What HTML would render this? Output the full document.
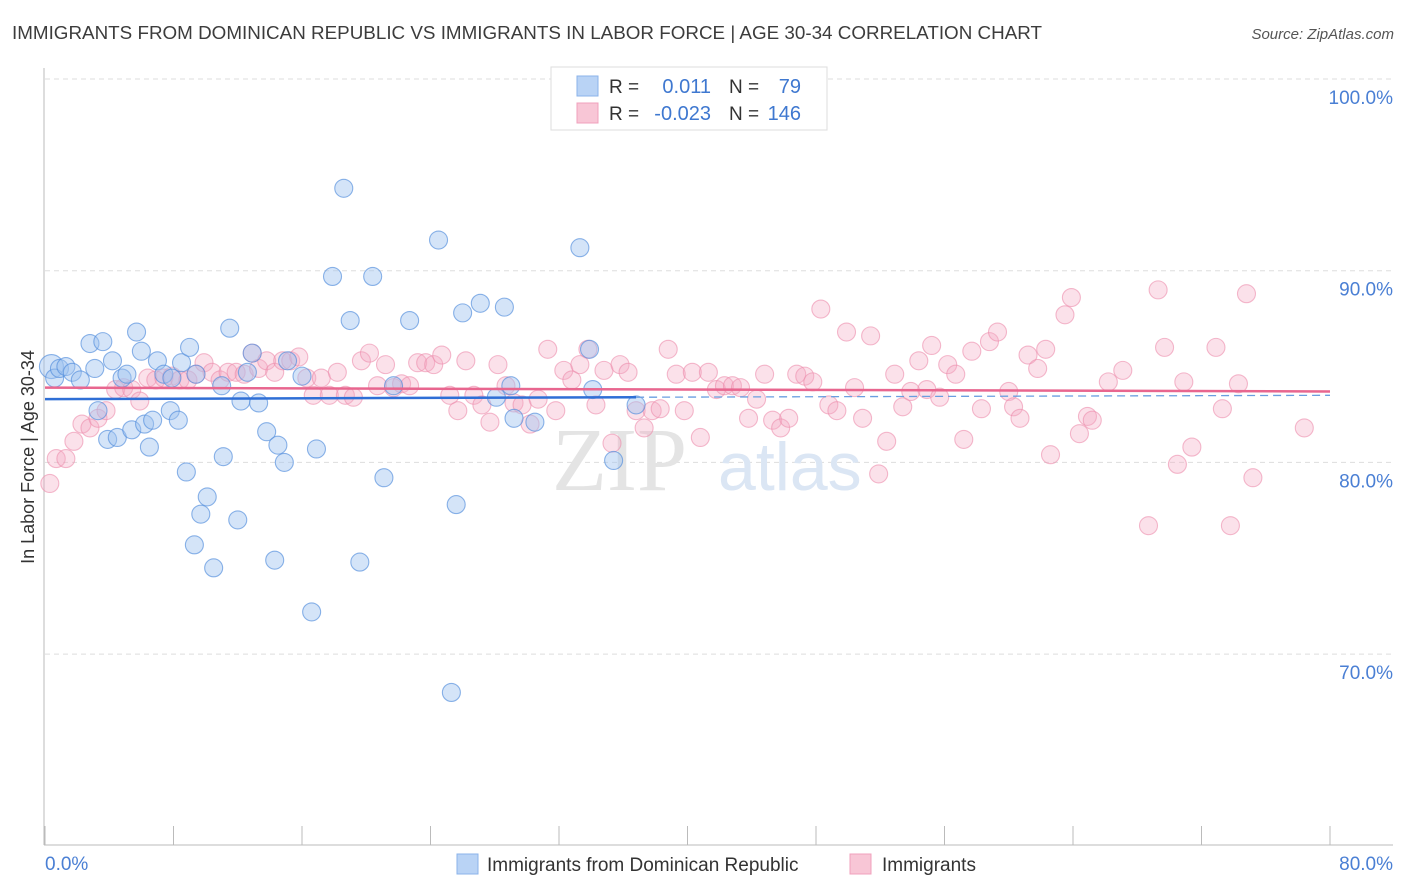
<!DOCTYPE html>
<html><head><meta charset="utf-8"><style>
body{margin:0;background:#fff;font-family:"Liberation Sans",sans-serif;}
svg{display:block}
</style></head><body>
<svg id="chart" width="1406" height="892" xmlns="http://www.w3.org/2000/svg">
<text x="12" y="39" font-size="18" fill="#3c3c3c" textLength="1030" lengthAdjust="spacingAndGlyphs">IMMIGRANTS FROM DOMINICAN REPUBLIC VS IMMIGRANTS IN LABOR FORCE | AGE 30-34 CORRELATION CHART</text>
<text x="1394" y="39" font-size="15" font-style="italic" fill="#555" text-anchor="end">Source: ZipAtlas.com</text>
<g id="grid"></g>
<text x="552" y="490" font-size="90" font-family="Liberation Serif,serif" fill="#e4e4e4">ZIP</text>
<text x="718" y="490" font-size="68" fill="#dbe6f4">atlas</text>
<g id="pts"></g>
<g id="lines"></g>
<text transform="translate(34,457) rotate(-90)" font-size="18" fill="#333" text-anchor="middle">In Labor Force | Age 30-34</text>
<text x="45" y="870" font-size="19" fill="#4a7fd4">0.0%</text>
<text x="1393" y="870" font-size="19" fill="#4a7fd4" text-anchor="end">80.0%</text>
<g>
<rect x="551" y="67" width="276" height="63" fill="#fff" stroke="#ddd"/>
<rect x="577" y="76" width="21" height="20" fill="#b9d3f5" stroke="#8bb3ea"/>
<rect x="577" y="103" width="21" height="20" fill="#f8c6d6" stroke="#f0a0bc"/>
<text x="609" y="93" font-size="19" fill="#333">R =</text>
<text x="711" y="93" font-size="20" fill="#3f78d0" text-anchor="end">0.011</text>
<text x="729" y="93" font-size="19" fill="#333">N =</text>
<text x="801" y="93" font-size="20" fill="#3f78d0" text-anchor="end">79</text>
<text x="609" y="120" font-size="19" fill="#333">R =</text>
<text x="711" y="120" font-size="20" fill="#3f78d0" text-anchor="end">-0.023</text>
<text x="729" y="120" font-size="19" fill="#333">N =</text>
<text x="801" y="120" font-size="20" fill="#3f78d0" text-anchor="end">146</text>
</g>
<g>
<rect x="457" y="854" width="21" height="20" fill="#b9d3f5" stroke="#8bb3ea"/>
<text x="487" y="871" font-size="19" fill="#333">Immigrants from Dominican Republic</text>
<rect x="850" y="854" width="21" height="20" fill="#f8c6d6" stroke="#f0a0bc"/>
<text x="882" y="871" font-size="19" fill="#333">Immigrants</text>
</g>
</svg>
<script>
const yTicks=[100,90,80,70];
const xTickVals=[0,8,16,24,32,40,48,56,64,72,80];
const blueX=[0.4,0.6,0.9,1.3,1.7,2.2,2.8,3.1,3.3,3.6,3.9,4.2,4.5,4.8,5.1,5.4,5.7,6.0,6.2,6.5,6.7,7.0,7.4,7.8,7.9,8.3,8.5,8.8,9.0,9.4,9.7,10.1,10.5,9.3,11.1,11.0,11.5,12.0,12.2,12.6,12.9,13.3,13.8,14.3,14.5,14.9,15.1,16.0,16.6,16.9,17.9,18.6,19.0,19.6,20.4,21.1,21.7,22.7,24.5,25.3,25.6,26.0,27.1,28.1,28.6,29.0,29.2,30.5,33.3,33.9,34.1,35.4,36.8];
const blueY=[85.0,84.4,84.9,85.0,84.7,84.3,86.2,84.9,82.7,86.3,81.2,85.3,81.3,84.4,84.6,81.7,86.8,85.8,82.0,80.8,82.2,85.3,84.6,82.7,84.4,82.2,85.2,79.5,86.0,84.6,77.3,78.2,74.5,75.7,80.3,84.0,87.0,77.0,83.2,84.7,85.7,83.1,81.6,74.9,80.9,80.0,85.3,84.5,72.2,80.7,89.7,94.3,87.4,74.8,89.7,79.2,84.0,87.4,91.6,68.0,77.8,87.8,88.3,83.4,88.1,84.0,82.3,82.1,91.2,85.9,83.8,80.1,83.0];
const pinkX=[0.3,0.7,1.3,1.8,2.3,2.8,3.3,3.8,4.4,4.9,5.4,5.9,6.4,6.9,7.4,7.9,8.4,8.9,9.4,9.9,10.4,10.9,11.4,11.9,12.4,12.9,13.3,13.8,14.3,14.8,15.3,15.8,16.3,16.7,17.2,17.7,18.2,18.7,19.2,19.7,20.2,20.7,21.2,21.7,22.2,22.7,23.2,23.7,24.2,24.7,25.2,25.7,26.2,26.7,27.2,27.7,28.2,28.7,29.2,29.7,30.2,30.7,31.3,31.8,32.3,32.8,33.3,33.8,34.3,34.8,35.3,35.8,36.3,36.8,37.3,37.8,38.3,38.8,39.3,39.8,40.3,40.8,41.3,41.8,42.3,42.8,43.3,43.8,44.3,44.8,45.3,45.8,46.3,46.8,47.3,47.8,48.3,48.8,49.3,49.9,50.4,50.9,51.4,51.9,52.4,52.9,53.4,53.9,54.4,54.9,55.2,55.7,56.2,56.7,57.2,57.7,58.3,58.8,59.3,60.0,60.3,60.7,61.2,61.8,62.3,62.6,63.5,63.9,64.4,64.9,65.2,66.2,67.1,68.7,69.3,69.7,70.5,70.9,71.4,72.9,73.3,73.8,74.8,75.2,74.3,78.4];
const pinkY=[78.9,80.2,80.2,81.1,82.0,81.8,82.3,82.7,83.8,83.9,83.8,83.2,84.4,84.3,84.4,84.5,84.3,84.3,84.6,85.2,84.7,84.3,84.7,84.7,84.6,85.7,84.9,85.3,84.7,85.3,85.3,85.5,84.4,83.5,84.4,83.5,84.7,83.5,83.4,85.3,85.7,84.0,85.1,83.9,84.1,84.0,85.2,85.2,85.1,85.6,83.5,82.7,85.3,83.5,83.0,82.1,85.1,84.0,83.1,83.0,82.0,83.3,85.9,82.7,84.8,84.3,85.1,85.9,83.0,84.8,81.0,85.1,84.7,82.7,81.8,82.7,82.8,85.9,84.6,82.7,84.7,81.3,84.7,83.8,84.0,84.0,83.9,82.3,83.3,84.6,82.2,81.8,82.3,84.6,84.5,84.2,88.0,83.0,82.7,86.8,83.9,82.3,86.6,79.4,81.1,84.6,82.9,83.7,85.3,83.8,86.1,83.4,85.1,84.6,81.2,85.8,82.8,86.3,86.8,83.7,82.9,82.3,85.6,84.9,85.9,80.4,87.7,88.6,81.5,82.4,82.2,84.2,84.8,76.7,89.0,86.0,79.9,84.2,80.8,86.0,82.8,76.7,88.8,79.2,84.1,81.8];
const blueTrend=[83.3,83.4,83.5];
const pinkTrend=[83.9,83.7];
const NS='http://www.w3.org/2000/svg';
const X0=45,X1=1330,Y0=845;
function sx(v){return X0+(v/80)*(X1-X0);}
function sy(v){return 79+(100-v)*19.17;}
function mk(tag,attrs,parent){const e=document.createElementNS(NS,tag);for(const k in attrs)e.setAttribute(k,attrs[k]);parent.appendChild(e);return e;}
const grid=document.getElementById('grid');
yTicks.forEach(t=>{
 const l=mk('line',{x1:45,x2:1393,y1:sy(t),y2:sy(t),stroke:'#ddd','stroke-dasharray':'5,4'},grid);
 
 
 const tx=mk('text',{x:1393,y:sy(t)+25,'font-size':19,fill:'#4a7fd4','text-anchor':'end'},grid);
 tx.textContent=t.toFixed(1)+'%';
 
 
});
const ax=mk('line',{x1:44,x2:44,y1:68,y2:Y0,stroke:'#bbb'},grid);


const bx=mk('line',{x1:44,x2:1393,y1:Y0,y2:Y0,stroke:'#bbb'},grid);


xTickVals.forEach(t=>{
 const l=mk('line',{x1:sx(t),x2:sx(t),y1:826,y2:Y0,stroke:'#bbb'},grid);
 
 
});
const pts=document.getElementById('pts');
pinkX.forEach((v,i)=>{
 const c=mk('circle',{cx:sx(v),cy:sy(pinkY[i]),r:9,fill:'rgba(244,168,194,0.35)',stroke:'rgba(236,140,172,0.6)','stroke-width':1.1},pts);
 
 
});
blueX.forEach((v,i)=>{
 const c=mk('circle',{cx:sx(v),cy:sy(blueY[i]),r:i===0?12:9,fill:'rgba(160,196,240,0.45)',stroke:'rgba(80,140,220,0.65)','stroke-width':1.1},pts);
 
 
});
const lines=document.getElementById('lines');
const bl=mk('line',{x1:sx(0),y1:sy(blueTrend[0]),x2:sx(36.8),y2:sy(blueTrend[1]),stroke:'#2f6fd6','stroke-width':2.5},lines);


const bd=mk('line',{x1:sx(36.8),y1:sy(blueTrend[1]),x2:sx(80),y2:sy(blueTrend[2]),stroke:'#6a9ee0','stroke-width':1.3,'stroke-dasharray':'8,5'},lines);


const pl=mk('line',{x1:sx(0),y1:sy(pinkTrend[0]),x2:sx(80),y2:sy(pinkTrend[1]),stroke:'#e8668f','stroke-width':2.5},lines);


</script>
</body></html>
